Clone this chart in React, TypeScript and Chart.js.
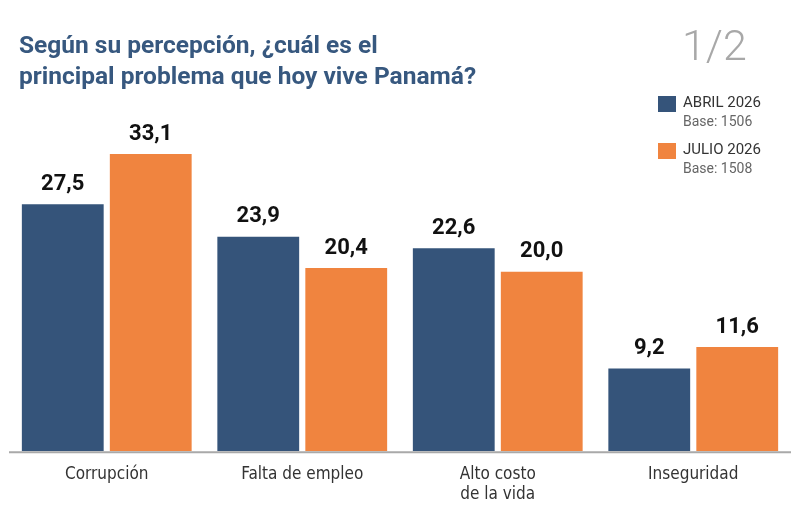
import React, { useEffect, useRef } from "react";
import { Chart, registerables } from "chart.js";

Chart.register(...registerables);

const categories: (string | string[])[] = ["Corrupción", "Falta de empleo", ["Alto costo", "de la vida"], "Inseguridad"];
const abril2026 = [27.5, 23.9, 22.6, 9.2];
const julio2026 = [33.1, 20.4, 20.0, 11.6];
const seriesNames = ["ABRIL 2026", "JULIO 2026"];
const seriesBases = ["Base: 1506", "Base: 1508"];
const titleLines = ["Según su percepción, ¿cuál es el", "principal problema que hoy vive Panamá?"];
const pageLabel = "1/2";

const BLUE = "#35547a";
const ORANGE = "#f0843f";

const valueLabels = {
  id: "valueLabels",
  afterDatasetsDraw(chart: any) {
    const ctx = chart.ctx;
    ctx.save();
    ctx.font = "bold 22px Roboto, 'Liberation Sans', sans-serif";
    ctx.fillStyle = "#111";
    ctx.textAlign = "center";
    ctx.textBaseline = "bottom";
    chart.data.datasets.forEach((ds: any, di: number) => {
      const meta = chart.getDatasetMeta(di);
      meta.data.forEach((bar: any, i: number) => {
        const v = ds.data[i] as number;
        ctx.fillText(v.toFixed(1).replace(".", ","), bar.x, bar.y - 9);
      });
    });
    ctx.restore();
  },
};

const baseLine = {
  id: "baseLine",
  afterDatasetsDraw(chart: any) {
    const ctx = chart.ctx;
    const y = chart.scales.y.getPixelForValue(0);
    ctx.save();
    ctx.strokeStyle = "#a9a9a9";
    ctx.lineWidth = 2;
    ctx.beginPath();
    ctx.moveTo(chart.chartArea.left, y + 1);
    ctx.lineTo(chart.chartArea.right, y + 1);
    ctx.stroke();
    ctx.restore();
  },
};

export default function App() {
  const ref = useRef<HTMLCanvasElement | null>(null);
  useEffect(() => {
    document.body.style.margin = "0";
    const chart = new Chart(ref.current as HTMLCanvasElement, {
      type: "bar",
      data: {
        labels: categories,
        datasets: [
          { label: seriesNames[0], data: abril2026, backgroundColor: BLUE },
          { label: seriesNames[1], data: julio2026, backgroundColor: ORANGE },
        ],
      },
      options: {
        animation: false,
        responsive: false,
        maintainAspectRatio: false,
        layout: { padding: { top: 128, left: 9, right: 9, bottom: 0 } },
        datasets: { bar: { categoryPercentage: 0.9, barPercentage: 0.93 } },
        plugins: { legend: { display: false }, tooltip: { enabled: false }, title: { display: false } },
        scales: {
          y: { display: false, min: 0, max: 36 },
          x: {
            grid: { display: false, drawTicks: false },
            border: { display: false },
            ticks: {
              padding: 13,
              color: "#333",
              font: { family: "'Liberation Sans Narrow', 'DejaVu Sans Condensed', Roboto, sans-serif", size: 17, lineHeight: 1.2 },
              maxRotation: 0,
            },
          },
        },
      },
      plugins: [valueLabels, baseLine],
    });
    return () => chart.destroy();
  }, []);

  return (
    <div style={{ position: "fixed", left: 0, top: 0, width: 800, height: 518, background: "#fff", overflow: "hidden" }}>
      <canvas ref={ref} width={800} height={518} style={{ position: "absolute", left: 0, top: 0 }} />
      <div style={{ position: "absolute", left: 19, top: 29, fontFamily: "Roboto, sans-serif", fontWeight: 700, fontSize: 24.5, lineHeight: "31px", color: "#37587f" }}>
        {titleLines.map((t, i) => (
          <div key={i}>{t}</div>
        ))}
      </div>
      <div style={{ position: "absolute", left: 682, top: 20, fontFamily: "Roboto, sans-serif", fontWeight: 300, fontSize: 43, color: "#a8a8a8" }}>{pageLabel}</div>
      {[BLUE, ORANGE].map((c, i) => (
        <div key={i} style={{ position: "absolute", left: 658, top: 96 + i * 47 }}>
          <div style={{ position: "absolute", left: 0, top: 0, width: 18, height: 16, background: c }} />
          <div style={{ position: "absolute", left: 25, top: -3, whiteSpace: "nowrap", fontFamily: "'Liberation Sans Narrow', Roboto, sans-serif", fontSize: 15, color: "#333" }}>{seriesNames[i]}</div>
          <div style={{ position: "absolute", left: 25, top: 17, whiteSpace: "nowrap", fontFamily: "'Liberation Sans Narrow', Roboto, sans-serif", fontSize: 14, color: "#666" }}>{seriesBases[i]}</div>
        </div>
      ))}
    </div>
  );
}
